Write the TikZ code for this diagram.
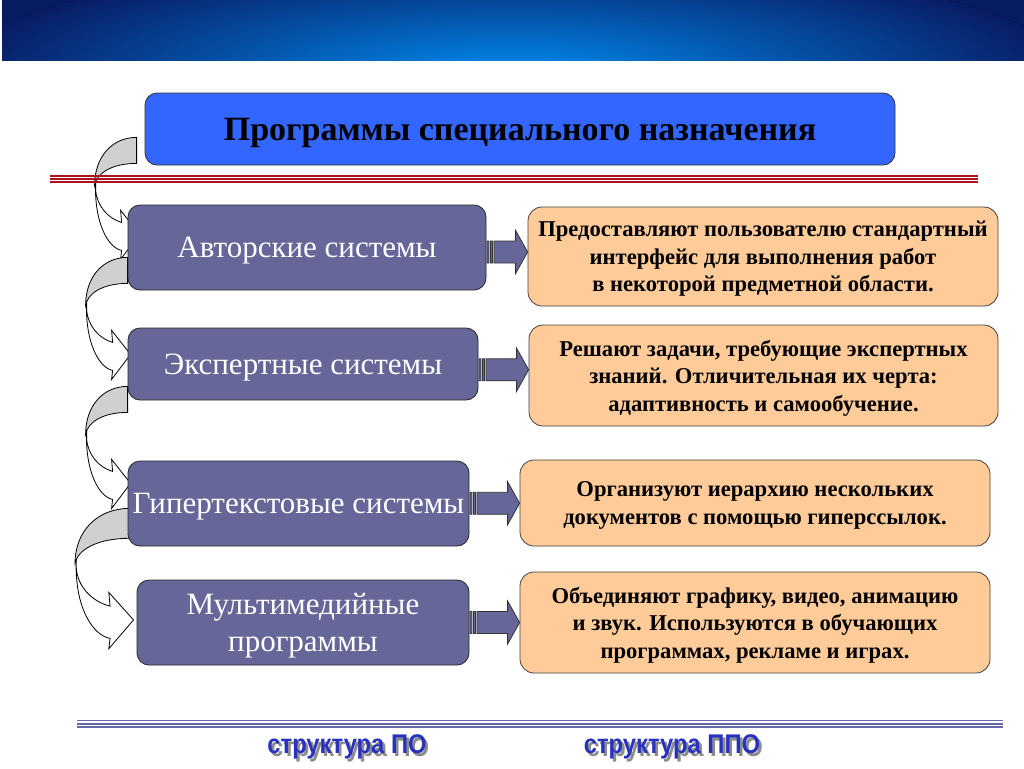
\documentclass[tikz,border=0pt]{standalone}
\usepackage{fontspec}
\setmainfont{Liberation Serif}
\newfontfamily\arialfont{Liberation Sans}
\usepackage{graphicx}
\usetikzlibrary{calc}
\definecolor{navy}{RGB}{8,28,100}
\definecolor{glow}{RGB}{0,140,240}
\definecolor{titleblue}{RGB}{51,102,255}
\definecolor{boxpurple}{RGB}{102,102,153}
\definecolor{peach}{RGB}{255,204,153}
\definecolor{backgray}{RGB}{208,208,208}
\definecolor{stripered}{RGB}{170,20,30}
\definecolor{stripeblue}{RGB}{102,102,170}
\definecolor{linkblue}{RGB}{40,50,190}
\pgfdeclarelayer{back}
\pgfsetlayers{back,main}
\tikzstyle{titlebox}=[draw=black!80,fill=titleblue,rounded corners=12pt,line width=.8pt,text depth=0pt,font=\fontsize{34}{40}\selectfont\bfseries]
\tikzstyle{kindbox}=[draw=black!85,fill=boxpurple,rounded corners=12pt,line width=.8pt,inner sep=2pt,text depth=0pt,text=white,align=center,font=\fontsize{31}{37}\selectfont]
\tikzstyle{notebox}=[draw=black!75,fill=peach,rounded corners=14pt,line width=.8pt,inner sep=4pt,text depth=0pt,align=center,font=\fontsize{22.6}{27.5}\selectfont\bfseries]
\tikzstyle{stripe}=[fill=boxpurple,draw=black!80,line width=.8pt]
\tikzstyle{linktext}=[text=linkblue,font=\arialfont\bfseries\fontsize{27}{30}\selectfont]
\newcommand\shadowed[1]{\rlap{\kern3pt\raisebox{-3pt}{\textcolor{black!45}{#1}}}#1}
\tikzset{pics/bendarrow/.style 2 args={code={
  \begin{scope}[xscale=#1,yscale=#2]
    \filldraw[fill=white,line width=.8pt] (-41,42) .. controls (-43,88) and (-27,111) .. (-15,113) -- (-16,122) -- (3,97) -- (-16,73) -- (-15,85) .. controls (-29,81) and (-40,68) .. (-41,52) -- cycle;
    \filldraw[fill=backgray,line width=.8pt] (0,0) .. controls (-25,0) and (-42,20) .. (-42,48) .. controls (-40,36) and (-25,26) .. (0,26) -- cycle;
  \end{scope}}}}
\newcommand\stripearrow[2]{%
  \path[stripe] let \p1=(#1.east), \p2=(#2.west), \p3=($(#1.east)!.5!(#2.west)$) in
    (\x1+0.5pt,\y3-11pt) rectangle (\x1+2.5pt,\y3+11pt)
    (\x1+4pt,\y3-11pt) rectangle (\x1+6pt,\y3+11pt)
    (\x1+7.5pt,\y3-11pt) -- (\x2-12pt,\y3-11pt) -- (\x2-12pt,\y3-21.5pt) -- (\x2,\y3)
    -- (\x2-12pt,\y3+21.5pt) -- (\x2-12pt,\y3+11pt) -- (\x1+7.5pt,\y3+11pt) -- cycle;}

\begin{document}
\begin{tikzpicture}[x=1pt,y=-1pt]
  \useasboundingbox (0,0) rectangle (1024,768);
  \begin{pgfonlayer}{back}
    \fill[white] (0,0) rectangle (1024,768);
  \end{pgfonlayer}
  \begin{scope}
    \clip (2,0) rectangle (1024,60);
    \fill[navy] (2,0) rectangle (1024,60);
    \fill[inner color=glow,outer color=navy] (512,75) ellipse [x radius=560,y radius=120];
  \end{scope}
  \node[titlebox,minimum width=750pt,minimum height=72pt] (title) at (520,129) {Программы специального назначения};

  \node[kindbox,minimum width=358pt,minimum height=85pt] (author) at (307,247.5) {Авторские системы};
  \node[kindbox,minimum width=350pt,minimum height=72pt] (expert) at (303,364) {Экспертные системы};
  \node[kindbox,minimum width=341pt,minimum height=85pt] (hyper) at (298.5,503.5) {Гипертекстовые системы};
  \node[kindbox,minimum width=332pt,minimum height=85pt] (multi) at (303,622.5) {Мультимедийные\\программы};

  \node[notebox,minimum width=470pt,minimum height=99pt] (authornote) at (763,256.5) {Предоставляют пользователю стандартный\\интерфейс для выполнения работ\\в некоторой предметной области.};
  \node[notebox,minimum width=469pt,minimum height=101pt] (expertnote) at (763.5,375.5) {Решают задачи, требующие экспертных\\знаний. Отличительная их черта:\\адаптивность и самообучение.};
  \node[notebox,minimum width=470pt,minimum height=86pt] (hypernote) at (755,503) {Организуют иерархию нескольких\\документов с помощью гиперссылок.};
  \node[notebox,minimum width=470pt,minimum height=101pt] (multinote) at (755,622.5) {Объединяют графику, видео, анимацию\\и звук. Используются в обучающих\\программах, рекламе и играх.};

  \stripearrow{author}{authornote}
  \stripearrow{expert}{expertnote}
  \stripearrow{hyper}{hypernote}
  \stripearrow{multi}{multinote}

  \begin{pgfonlayer}{back}
    \pic at ($(title.south west)+(-8,-28)$) {bendarrow={1}{1}};
    \pic at ($(author.south west)+(0,-33)$) {bendarrow={1}{1}};
    \pic at ($(expert.south west)+(0,-14)$) {bendarrow={1}{1}};
    \pic at ($(hyper.south west)+(2,-38)$) {bendarrow={1.3}{1.15}};
    \foreach \y in {176,179,182}
      \draw[stripered,line width=1.8pt] (50,\y) -- (978,\y);
  \end{pgfonlayer}

  \foreach \y/\w in {720.6/1,723.9/1.8,726.8/1.4}
    \draw[stripeblue,line width=\w pt] (77,\y) -- (1003,\y);
  \node[linktext] (po) at (347,748) {\scalebox{.88}[1]{\shadowed{структура ПО}}};
  \node[linktext] (ppo) at (672,748) {\scalebox{.88}[1]{\shadowed{структура ППО}}};
\end{tikzpicture}
\end{document}
